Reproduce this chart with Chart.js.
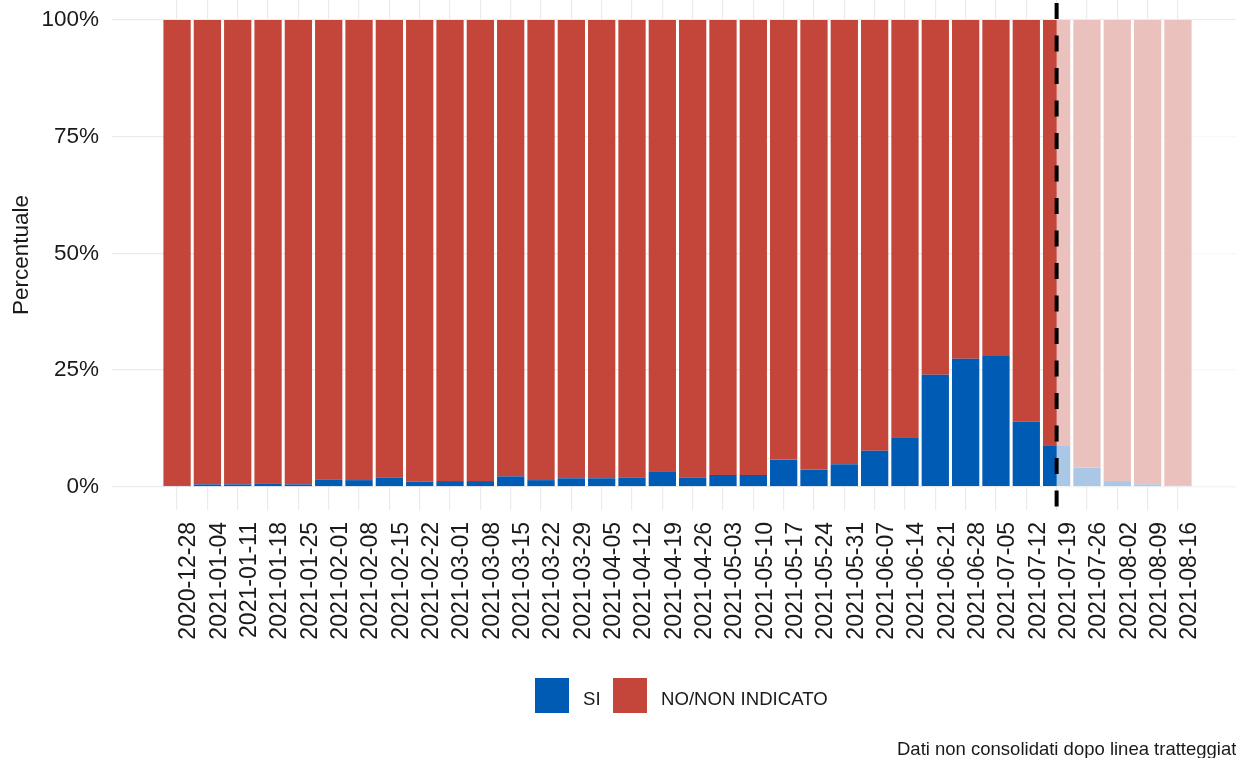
<!DOCTYPE html>
<html>
<head>
<meta charset="utf-8">
<title>Percentuale SI / NO</title>
<script src="https://cdn.jsdelivr.net/npm/chart.js@4.4.1/dist/chart.umd.min.js"></script>
<style>
  html, body { margin: 0; padding: 0; background: #fff; overflow: hidden; }
  #wrap { width: 1250px; height: 758px; }
</style>
</head>
<body>
<div id="wrap"><canvas id="chart" width="1250" height="758"></canvas></div>
<script>
// ---------------- DATA ----------------
const weeks = [
    "2020-12-28", "2021-01-04", "2021-01-11", "2021-01-18", "2021-01-25",
    "2021-02-01", "2021-02-08", "2021-02-15", "2021-02-22", "2021-03-01",
    "2021-03-08", "2021-03-15", "2021-03-22", "2021-03-29", "2021-04-05",
    "2021-04-12", "2021-04-19", "2021-04-26", "2021-05-03", "2021-05-10",
    "2021-05-17", "2021-05-24", "2021-05-31", "2021-06-07", "2021-06-14",
    "2021-06-21", "2021-06-28", "2021-07-05", "2021-07-12", "2021-07-19",
    "2021-07-26", "2021-08-02", "2021-08-09", "2021-08-16"
];

const siValues = [
    0.3, 0.5, 0.5, 0.7, 0.5, 1.5, 1.4, 2.0, 1.1, 1.2,
    1.2, 2.2, 1.4, 1.8, 1.8, 2.0, 3.3, 2.0, 2.5, 2.5,
    5.8, 3.6, 4.8, 7.7, 10.6, 24.0, 27.4, 28.0, 13.9, 8.9,
    4.1, 1.2, 0.5, 0.2
];

const noValues = [
    99.7, 99.5, 99.5, 99.3, 99.5, 98.5, 98.6, 98.0, 98.9, 98.8,
    98.8, 97.8, 98.6, 98.2, 98.2, 98.0, 96.7, 98.0, 97.5, 97.5,
    94.2, 96.4, 95.2, 92.3, 89.4, 76.0, 72.6, 72.0, 86.1, 91.1,
    95.9, 98.8, 99.5, 99.8
];

const seriesNames = ["SI", "NO/NON INDICATO"];
const yTicks = [0, 25, 50, 75, 100];
const cutoffWeek = "2021-07-19";
const captionText = "Dati non consolidati dopo linea tratteggiata";

// ---------------- STYLE ----------------
const FONT = "'Liberation Sans', Arial, sans-serif";
const BLUE = "#005BB5";
const RED = "#C4463A";
const GRID = "#ebebeb";
const TEXT = "#1a1a1a";

// ---------------- PLUGINS ----------------
// light veil + dashed line for the non-consolidated weeks
const cutoffPlugin = {
    id: "cutoff",
    afterDatasetsDraw(chart) {
        const { ctx, chartArea, scales } = chart;
        const idx = weeks.indexOf(cutoffWeek);
        const x = scales.x.getPixelForValue(idx);
        const yTop = scales.y.getPixelForValue(100);
        const yBot = scales.y.getPixelForValue(0);

        ctx.save();
        ctx.fillStyle = "rgba(255,255,255,0.665)";
        ctx.fillRect(x, yTop, chartArea.right - x, yBot - yTop);

        ctx.strokeStyle = "#000";
        ctx.lineWidth = 4;
        ctx.setLineDash([16, 16.5]);
        ctx.lineDashOffset = 29.5;
        ctx.beginPath();
        ctx.moveTo(x, chartArea.top);
        ctx.lineTo(x, chartArea.bottom);
        ctx.stroke();
        ctx.restore();
    }
};

// legend and caption under the axis
const legendPlugin = {
    id: "bottomLegend",
    afterDraw(chart) {
        const ctx = chart.ctx;
        const sets = chart.data.datasets;
        const boxes = [535, 613];
        ctx.save();
        ctx.font = "18.6px " + FONT;
        ctx.fillStyle = TEXT;
        ctx.textBaseline = "alphabetic";
        sets.forEach((ds, i) => {
            ctx.fillStyle = ds.backgroundColor;
            ctx.fillRect(boxes[i], 678, 34, 35);
            ctx.fillStyle = TEXT;
            ctx.fillText(ds.label, boxes[i] + 48, 704.5);
        });
        ctx.font = "18.5px " + FONT;
        ctx.fillText(captionText, 897, 755);
        ctx.restore();
    }
};

// ---------------- CHART ----------------
new Chart(document.getElementById("chart"), {
    type: "bar",
    data: {
        datasets: [
            {
                label: seriesNames[0],
                data: weeks.map((w, i) => ({ x: i, y: siValues[i] })),
                backgroundColor: BLUE,
                borderWidth: 0,
                barPercentage: 0.9,
                categoryPercentage: 1.0
            },
            {
                label: seriesNames[1],
                data: weeks.map((w, i) => ({ x: i, y: noValues[i] })),
                backgroundColor: RED,
                borderWidth: 0,
                barPercentage: 0.9,
                categoryPercentage: 1.0
            }
        ]
    },
    options: {
        responsive: false,
        animation: false,
        layout: { padding: { left: 0, right: 7, top: 0, bottom: 0 } },
        plugins: {
            legend: { display: false },
            tooltip: { enabled: false }
        },
        scales: {
            x: {
                type: "linear",
                offset: false,
                min: -2.145,
                max: 35.145,
                stacked: true,
                afterBuildTicks: s => { s.ticks = weeks.map((w, i) => ({ value: i })); },
                afterFit: s => { s.height = 248; s.paddingLeft = 0; s.paddingRight = 0; },
                ticks: {
                    autoSkip: false,
                    minRotation: 90,
                    maxRotation: 90,
                    padding: 12,
                    labelOffset: 12,
                    color: TEXT,
                    font: { family: FONT, size: 23 },
                    callback: v => weeks[Math.round(v)]
                },
                grid: { color: GRID, lineWidth: 1.2, drawTicks: false, offset: false },
                border: { display: false }
            },
            y: {
                min: -5,
                max: 104.28,
                stacked: true,
                afterBuildTicks: s => { s.ticks = yTicks.map(v => ({ value: v })); },
                afterFit: s => { s.width = 112; s.paddingTop = 0; s.paddingBottom = 0; },
                ticks: {
                    padding: 13,
                    color: TEXT,
                    font: { family: FONT, size: 22.5 },
                    callback: v => v + "%"
                },
                grid: { color: GRID, lineWidth: 1.2, drawTicks: false },
                border: { display: false },
                title: {
                    display: true,
                    text: "Percentuale",
                    color: TEXT,
                    font: { family: FONT, size: 22.5 },
                    padding: { top: 8, bottom: 0 }
                }
            }
        }
    },
    plugins: [cutoffPlugin, legendPlugin]
});
</script>
</body>
</html>
